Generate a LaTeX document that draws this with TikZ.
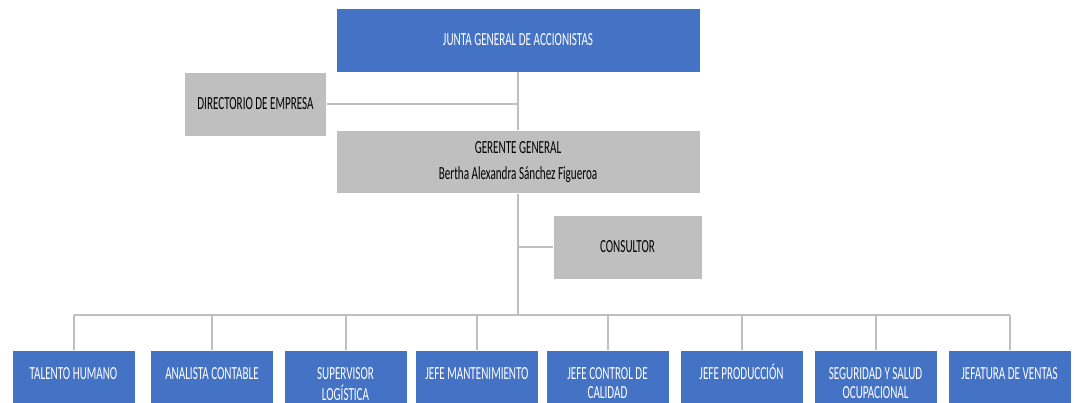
\documentclass[tikz,border=0pt]{standalone}
\usepackage{fontspec}
\setmainfont{Carlito}[FakeStretch=0.6]
\usepackage{tikz}
\usetikzlibrary{calc, positioning}
\definecolor{boxBlue}{HTML}{4472C4}
\definecolor{boxGray}{HTML}{BFBFBF}
\definecolor{lineGray}{HTML}{BFBFBF}
\newcommand{\toplines}[1]{\begin{tabular}[t]{@{}c@{}}#1\end{tabular}}

\begin{document}
\begin{tikzpicture}[x=1pt, y=-1pt,
    bluebox/.style={fill=boxBlue, draw=white, line width=0.8pt, text=white, inner sep=0pt, align=center, font=\fontsize{18.5}{26}\selectfont},
    graybox/.style={fill=boxGray, draw=white, line width=0.8pt, text=black, inner sep=0pt, align=center, font=\fontsize{18.5}{26}\selectfont},
    areabox/.style={fill=boxBlue, draw=white, line width=0.8pt, text=white, inner sep=0pt, anchor=north,
        minimum width=123pt, text height=29.5pt, text depth=23.5pt, font=\fontsize{18.5}{18.5}\selectfont},
    link/.style={draw=lineGray, line width=2pt}]
    \useasboundingbox (0,0) rectangle (1075,403);

    % upper levels
    \node[bluebox, minimum width=364pt, minimum height=64pt] (junta) at (518,40) {JUNTA GENERAL DE ACCIONISTAS};
    \node[graybox, minimum width=142pt, minimum height=64pt] (direc) at (255.5,104) {DIRECTORIO DE EMPRESA};
    \node[graybox, minimum width=364pt, minimum height=63pt] (gerente) at (518,162) {GERENTE GENERAL\\Bertha Alexandra Sánchez Figueroa};
    \node[graybox, minimum width=149pt, minimum height=64pt] (consultor) at (627.5,247) {CONSULTOR};
    \coordinate (bus) at (518,315);

    % areas
    \node[areabox] (talento) at (73.5,350) {\toplines{TALENTO HUMANO}};
    \node[areabox] (analista) at (212,350) {\toplines{ANALISTA CONTABLE}};
    \node[areabox] (logistica) at (345.5,350) {\toplines{SUPERVISOR\\LOGÍSTICA}};
    \node[areabox] (mant) at (477,350) {\toplines{JEFE MANTENIMIENTO}};
    \node[areabox] (calidad) at (607.5,350) {\toplines{JEFE CONTROL DE\\CALIDAD}};
    \node[areabox] (prod) at (741.5,350) {\toplines{JEFE PRODUCCIÓN}};
    \node[areabox] (seguridad) at (875.5,350) {\toplines{SEGURIDAD Y SALUD\\OCUPACIONAL}};
    \node[areabox] (ventas) at (1009.5,350) {\toplines{JEFATURA DE VENTAS}};

    % connectors
    \draw[link] (junta.south) -- (gerente.north);
    \draw[link] (gerente.south) -- (bus);
    \draw[link] (direc.east) -- (direc.east -| junta.south);
    \draw[link] (consultor.west) -- (consultor.west -| gerente.south);
    \draw[link] (talento.north |- bus) -- (ventas.north |- bus);
    \foreach \n in {talento, analista, logistica, mant, calidad, prod, seguridad, ventas}
        \draw[link] (\n.north |- bus) -- (\n.north);
\end{tikzpicture}
\end{document}
